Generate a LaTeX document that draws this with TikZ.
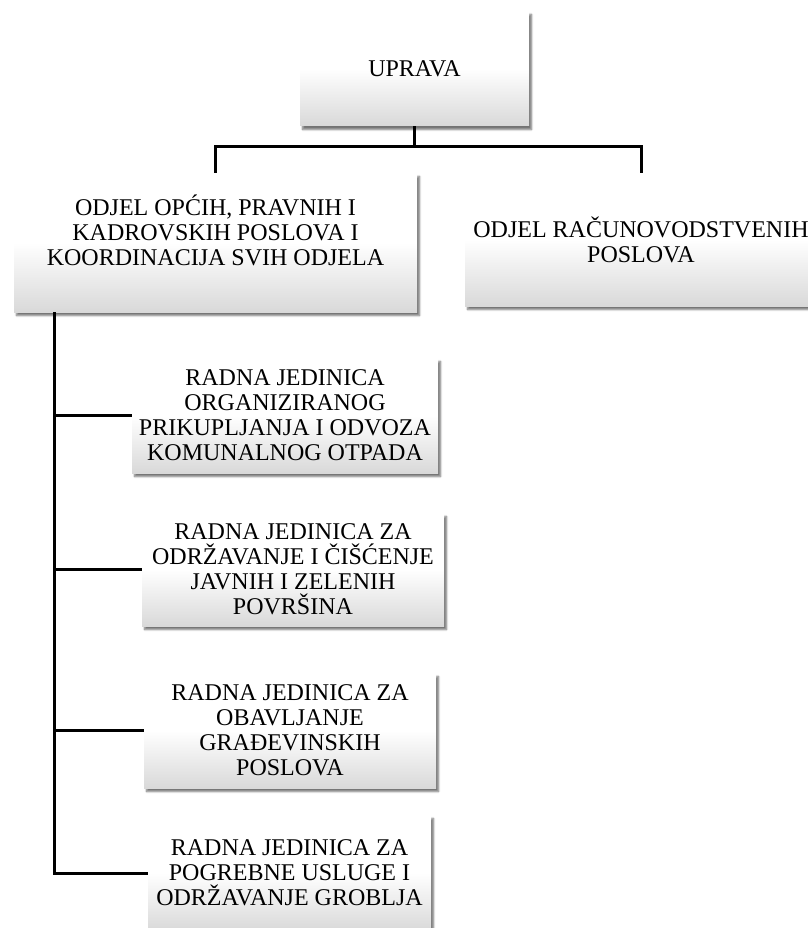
\documentclass[tikz,border=0pt]{standalone}
\usepackage{fontspec}
\setmainfont{Liberation Serif}
\usetikzlibrary{shadows.blur}
\newcommand{\unitLink}[1]{%%
  %% A branch from the spine to one unit.
  \draw[lineStyle] (spine |- #1.west) -- (#1.west);
}
\newcommand{\unitBox}[5]{%%
  \node[boxStyle,minimum width=#3pt,minimum height=#4pt] (#1) at (#2) {#5};
}

\begin{document}
\begin{tikzpicture}[%%
  x=1pt,y=-1pt,%%
  boxStyle/.style={inner sep=0pt,align=center,top color=white,bottom color=black!15,middle color=white,%%
    blur shadow={shadow xshift=2.5pt,shadow yshift=-3.5pt,shadow blur steps=6,shadow opacity=55},font=\fontsize{24}{25}\selectfont},%%
  lineStyle/.style={-,line width=3pt}%%
]
\useasboundingbox (0,0) rectangle (807,928);
%% The top and the two departments.
\unitBox{uprava}{414.5,68.5}{229}{115}{UPRAVA}
\unitBox{odjelOpci}{215.5,242.5}{403}{139}{ODJEL OPĆIH, PRAVNIH I\\KADROVSKIH POSLOVA I\\KOORDINACIJA SVIH ODJELA\\\mbox{}}
\unitBox{odjelRacun}{641,239.5}{352}{133}{ODJEL RAČUNOVODSTVENIH\\POSLOVA}
%% The working units.
\unitBox{rjOtpad}{285,415.5}{306}{115}{RADNA JEDINICA\\ORGANIZIRANOG\\PRIKUPLJANJA I ODVOZA\\KOMUNALNOG OTPADA}
\unitBox{rjZelenilo}{293,569.5}{302}{113}{RADNA JEDINICA ZA\\ODRŽAVANJE I ČIŠĆENJE\\JAVNIH I ZELENIH\\POVRŠINA}
\unitBox{rjGradnja}{290,730.5}{292}{115}{RADNA JEDINICA ZA\\OBAVLJANJE\\GRAĐEVINSKIH\\POSLOVA}
\unitBox{rjGroblje}{289.5,873}{283}{116}{RADNA JEDINICA ZA\\POGREBNE USLUGE I\\ODRŽAVANJE GROBLJA}
%% Connectors from the top.
\coordinate (bar) at (0,147);
\coordinate (spine) at (54,0);
\draw[lineStyle] (uprava.south) -- (uprava.south |- bar);
\draw[lineStyle] (odjelOpci.north) -- (odjelOpci.north |- bar) -| (odjelRacun.north);
%% The spine of the units.
\draw[lineStyle] (spine |- odjelOpci.south) |- (rjGroblje.west);
\unitLink{rjOtpad}
\unitLink{rjZelenilo}
\unitLink{rjGradnja}
\end{tikzpicture}
\end{document}
